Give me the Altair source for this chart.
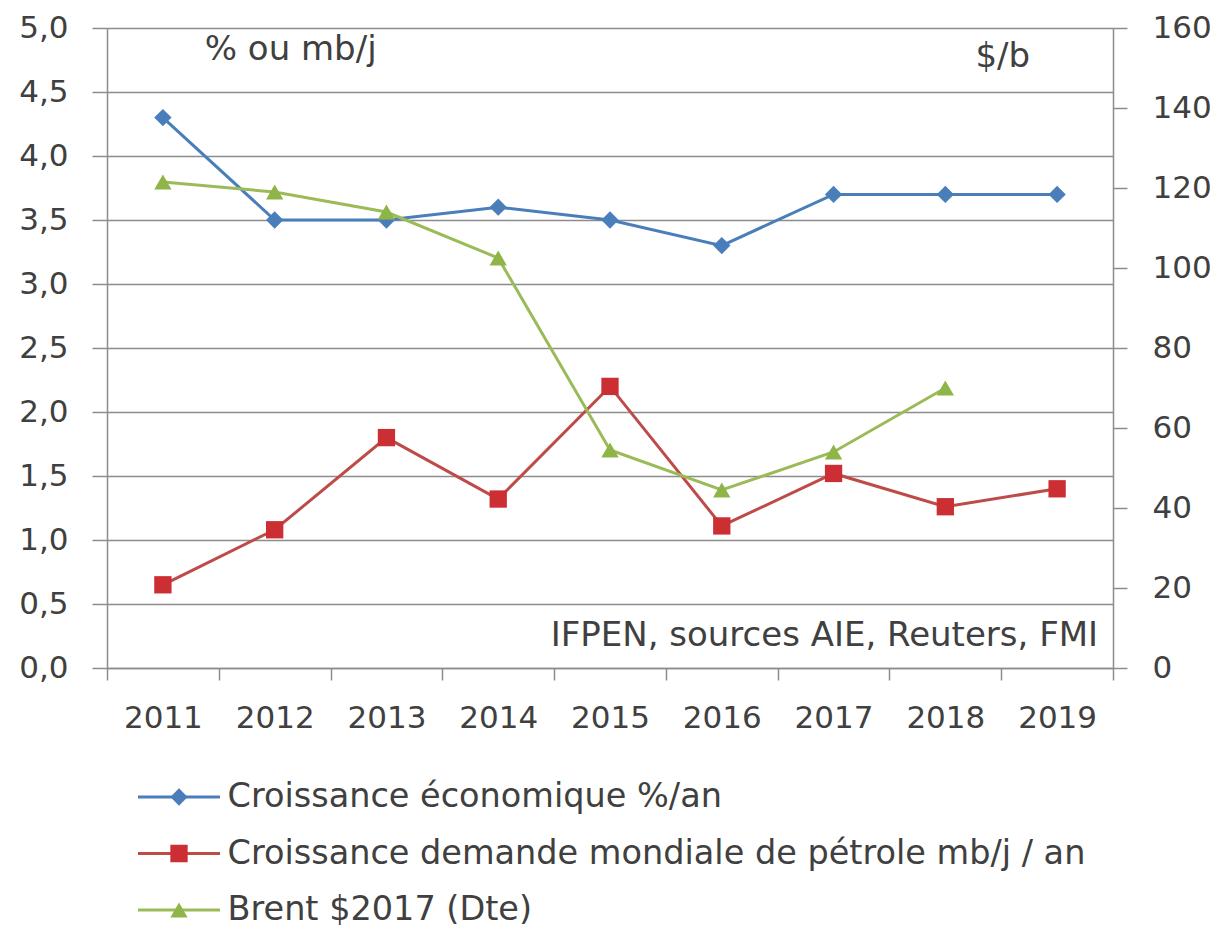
import altair as alt
import pandas as pd

years = ["2011", "2012", "2013", "2014", "2015", "2016", "2017", "2018", "2019"]
series_names = [
    "Croissance économique %/an",
    "Croissance demande mondiale de pétrole mb/j / an",
    "Brent $2017 (Dte)",
]
croissance = [4.3, 3.5, 3.5, 3.6, 3.5, 3.3, 3.7, 3.7, 3.7]
demande = [0.65, 1.08, 1.8, 1.32, 2.2, 1.11, 1.52, 1.26, 1.4]
brent = [121.5, 119.0, 114.0, 102.5, 54.5, 44.5, 54.0, 70.0, None]

left_ticks = [0, 0.5, 1, 1.5, 2, 2.5, 3, 3.5, 4, 4.5, 5]
right_ticks = [0, 20, 40, 60, 80, 100, 120, 140, 160]

ann_text = ["% ou mb/j", "$/b", "IFPEN, sources AIE, Reuters, FMI"]
ann_year = ["2012", "2019", "2019"]
ann_value = [4.83, 4.77, 0.25]

line_colors = ["#4a7ebb", "#be4b48", "#9bbb59"]
marker_colors = ["#4a7ebb", "#cc2f33", "#8fb548"]
shapes = ["diamond", "square", "triangle-up"]
# keys of the marker legend (its labels are blank; the line legend carries the text)
marker_keys = ["marqueur " + s for s in series_names]

FONT = "DejaVu Sans"
TXT = "#404040"
GRID = "#8c8c8c"

left_rows = []
for y, v in zip(years, croissance):
    left_rows.append({"year": y, "series": series_names[0], "serie_m": marker_keys[0], "value": v})
for y, v in zip(years, demande):
    left_rows.append({"year": y, "series": series_names[1], "serie_m": marker_keys[1], "value": v})
df_left = pd.DataFrame(left_rows)
df_right = pd.DataFrame(
    [{"year": y, "series": series_names[2], "serie_m": marker_keys[2], "value": v}
     for y, v in zip(years, brent) if v is not None]
)

x_enc = alt.X(
    "year:N",
    sort=years,
    scale=alt.Scale(type="band", domain=years, paddingInner=0, paddingOuter=0),
    axis=alt.Axis(
        title=None, labelAngle=0, tickBand="extent", tickSize=12, tickColor=GRID,
        tickWidth=1.5, domainColor=GRID, domainWidth=1.5, labelFont=FONT,
        labelFontSize=31, labelColor=TXT, labelPadding=23, grid=False,
    ),
)

y_left = alt.Y(
    "value:Q",
    scale=alt.Scale(domain=[0, 5], nice=False, zero=True),
    axis=alt.Axis(
        title=None, orient="left", values=left_ticks,
        labelExpr="replace(format(datum.value, '.1f'), '.', ',')",
        grid=True, gridColor=GRID, gridWidth=1.5, tickColor=GRID, tickWidth=1.5,
        tickSize=15, domainColor=GRID, domainWidth=1.5, labelFont=FONT,
        labelFontSize=31, labelColor=TXT, labelPadding=24,
    ),
)
y_right = alt.Y(
    "value:Q",
    scale=alt.Scale(domain=[0, 160], nice=False, zero=True),
    axis=alt.Axis(
        title=None, orient="right", values=right_ticks, grid=False,
        tickColor=GRID, tickWidth=1.5, tickSize=14, domainColor=GRID,
        domainWidth=1.5, labelFont=FONT, labelFontSize=31, labelColor=TXT,
        labelPadding=25,
    ),
)

legend_a = alt.Legend(
    title=None, orient="none", legendX=29.5, legendY=749, direction="vertical",
    symbolType="stroke", symbolSize=6724, symbolStrokeWidth=3, clipHeight=40,
    rowPadding=16.5, labelFont=FONT, labelFontSize=33.5, labelColor=TXT,
    labelOffset=6, labelLimit=1200, padding=0,
)
legend_b = alt.Legend(
    title=None, orient="none", legendX=56, legendY=749, direction="vertical",
    symbolSize=300, symbolStrokeWidth=0, clipHeight=40, rowPadding=16.5,
    labelFont=FONT, labelFontSize=32, labelExpr="''", padding=0,
)

color_enc = alt.Color(
    "series:N", scale=alt.Scale(domain=series_names, range=line_colors), legend=legend_a
)
fill_enc = alt.Fill(
    "serie_m:N", scale=alt.Scale(domain=marker_keys, range=marker_colors), legend=legend_b
)
shape_enc = alt.Shape(
    "serie_m:N", scale=alt.Scale(domain=marker_keys, range=shapes), legend=legend_b
)

left_lines = alt.Chart(df_left).mark_line(strokeWidth=3).encode(
    x=x_enc, y=y_left, color=color_enc, detail="series:N"
)
left_points = alt.Chart(df_left).mark_point(filled=True, size=300, opacity=1).encode(
    x=x_enc, y=y_left, fill=fill_enc, shape=shape_enc
)


def annotation(i, align, dx):
    df = pd.DataFrame({"text": [ann_text[i]], "year": [ann_year[i]], "value": [ann_value[i]]})
    return alt.Chart(df).mark_text(
        font=FONT, fontSize=34, color=TXT, baseline="middle", align=align, dx=dx
    ).encode(x=x_enc, y=y_left, text="text:N")


ann1 = annotation(0, "center", 16)
ann2 = annotation(1, "right", -27)
ann3 = annotation(2, "right", 41)

right_lines = alt.Chart(df_right).mark_line(strokeWidth=3).encode(
    x=x_enc, y=y_right, color=color_enc
)
right_points = alt.Chart(df_right).mark_point(filled=True, size=300, opacity=1).encode(
    x=x_enc, y=y_right, fill=fill_enc, shape=shape_enc
)

left = alt.layer(left_lines, left_points, ann1, ann2, ann3)
right = alt.layer(right_lines, right_points)

chart = (
    alt.layer(left, right)
    .resolve_scale(y="independent")
    .properties(
        width=1006,
        height=640,
        padding={"left": 99, "top": 20, "right": 104, "bottom": 264},
        autosize=alt.AutoSizeParams(type="none"),
        background="white",
    )
    .configure_view(stroke=None)
)

chart.save("out.html", embed_options={"renderer": "svg", "actions": False})
